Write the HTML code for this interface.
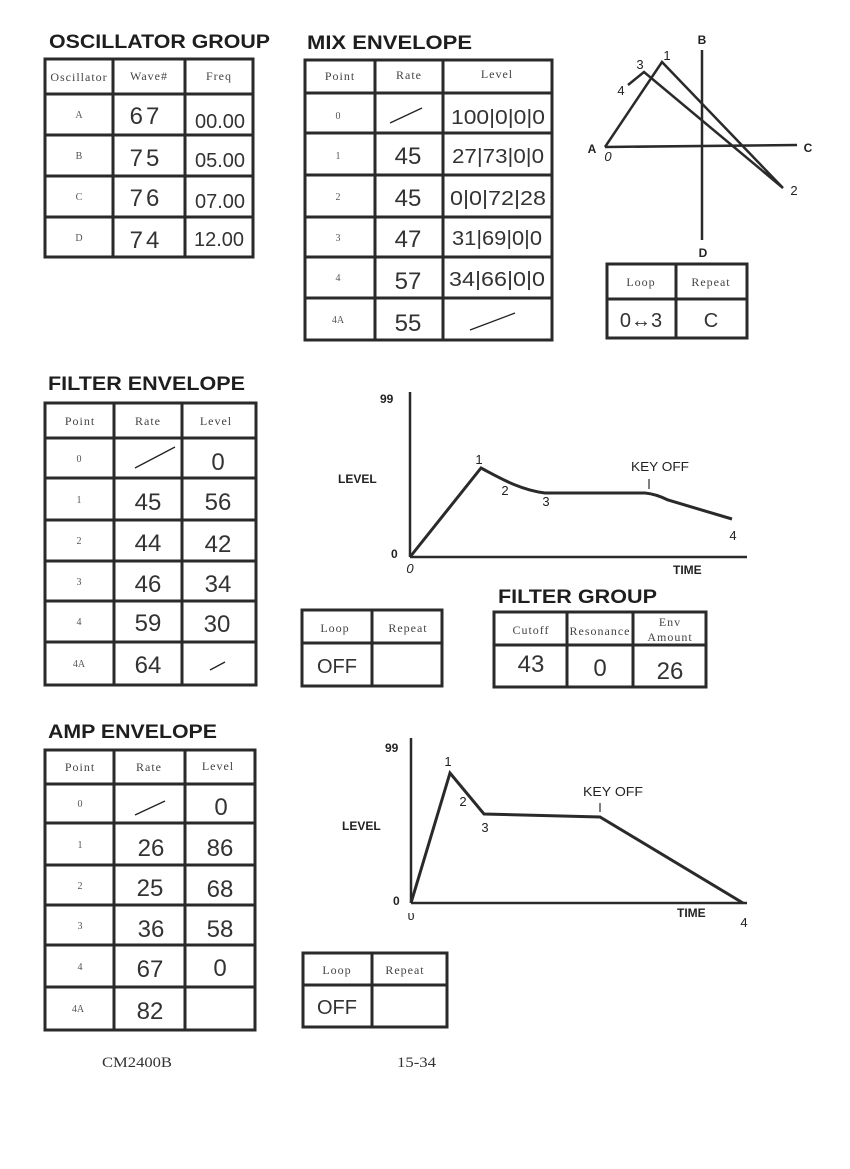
<!DOCTYPE html>
<html><head><meta charset="utf-8"><style>
html,body{margin:0;padding:0;background:#fff;}
svg{display:block;}
.t{font-family:"Liberation Sans",sans-serif;font-weight:bold;font-size:19px;fill:#1e1e1e;}
.h{font-family:"Liberation Serif",serif;font-size:12px;fill:#444;text-anchor:middle;letter-spacing:1px;}
.r{font-family:"Liberation Serif",serif;font-size:10px;fill:#555;text-anchor:middle;}
.hw{font-family:"Liberation Sans",sans-serif;font-size:24px;fill:#333;text-anchor:middle;}
.hs{font-family:"Liberation Sans",sans-serif;font-size:20px;fill:#333;text-anchor:middle;}
.ax{font-family:"Liberation Sans",sans-serif;font-weight:bold;font-size:12px;fill:#222;}
.lab{font-family:"Liberation Sans",sans-serif;font-size:13px;fill:#222;text-anchor:middle;}
.ft{font-family:"Liberation Serif",serif;font-size:15px;fill:#333;}
.g{fill:none;stroke:#2a2a2a;stroke-width:3;}
.th{fill:none;stroke:#222;stroke-width:1.3;}
</style></head><body>
<svg width="850" height="1169" viewBox="0 0 850 1169" xmlns="http://www.w3.org/2000/svg">
<rect width="850" height="1169" fill="#fff"/>

<!-- OSCILLATOR GROUP -->
<text class="t" x="49" y="48" textLength="221" lengthAdjust="spacingAndGlyphs">OSCILLATOR GROUP</text>
<g class="g">
<rect x="45" y="59" width="208" height="198"/>
<line x1="113" y1="59" x2="113" y2="257"/><line x1="185" y1="59" x2="185" y2="257"/>
<line x1="45" y1="94" x2="253" y2="94"/><line x1="45" y1="135" x2="253" y2="135"/>
<line x1="45" y1="176" x2="253" y2="176"/><line x1="45" y1="217" x2="253" y2="217"/>
</g>
<text class="h" x="79" y="81" letter-spacing="0.5">Oscillator</text><text class="h" x="149" y="80">Wave#</text><text class="h" x="219" y="80">Freq</text>
<text class="r" x="79" y="118">A</text><text class="r" x="79" y="159">B</text><text class="r" x="79" y="200">C</text><text class="r" x="79" y="241">D</text>
<text class="hw" x="146" y="124" letter-spacing="3">67</text>
<text class="hw" x="146" y="166" letter-spacing="3">75</text>
<text class="hw" x="146" y="206" letter-spacing="3">76</text>
<text class="hw" x="146" y="248" letter-spacing="3">74</text>
<text class="hs" x="220" y="128">00.00</text>
<text class="hs" x="220" y="167">05.00</text>
<text class="hs" x="220" y="208">07.00</text>
<text class="hs" x="219" y="246">12.00</text>

<!-- MIX ENVELOPE -->
<text class="t" x="307" y="49" textLength="165" lengthAdjust="spacingAndGlyphs">MIX ENVELOPE</text>
<g class="g">
<rect x="305" y="60" width="247" height="280"/>
<line x1="375" y1="60" x2="375" y2="340"/><line x1="443" y1="60" x2="443" y2="340"/>
<line x1="305" y1="93" x2="552" y2="93"/><line x1="305" y1="133" x2="552" y2="133"/>
<line x1="305" y1="175" x2="552" y2="175"/><line x1="305" y1="217" x2="552" y2="217"/>
<line x1="305" y1="257" x2="552" y2="257"/><line x1="305" y1="298" x2="552" y2="298"/>
</g>
<text class="h" x="340" y="80">Point</text><text class="h" x="409" y="79">Rate</text><text class="h" x="497" y="78">Level</text>
<text class="r" x="338" y="119">0</text><text class="r" x="338" y="159">1</text><text class="r" x="338" y="200">2</text>
<text class="r" x="338" y="241">3</text><text class="r" x="338" y="281">4</text><text class="r" x="338" y="323">4A</text>
<line class="th" x1="390" y1="123" x2="422" y2="108"/>
<text class="hw" x="408" y="164">45</text><text class="hw" x="408" y="206">45</text>
<text class="hw" x="408" y="247">47</text><text class="hw" x="408" y="289">57</text><text class="hw" x="408" y="331">55</text>
<text class="hs" x="498" y="124" textLength="94" lengthAdjust="spacingAndGlyphs">100|0|0|0</text>
<text class="hs" x="498" y="163" textLength="92" lengthAdjust="spacingAndGlyphs">27|73|0|0</text>
<text class="hs" x="498" y="205" textLength="96" lengthAdjust="spacingAndGlyphs">0|0|72|28</text>
<text class="hs" x="497" y="245" textLength="90" lengthAdjust="spacingAndGlyphs">31|69|0|0</text>
<text class="hs" x="497" y="286" textLength="96" lengthAdjust="spacingAndGlyphs">34|66|0|0</text>
<line class="th" x1="470" y1="330" x2="515" y2="313"/>

<!-- Vector diagram -->
<g fill="none" stroke="#2a2a2a" stroke-width="2.5">
<line x1="702" y1="50" x2="702" y2="240"/>
<line x1="605" y1="147" x2="797" y2="145"/>
<polyline points="605,147 662,62 783,188 644,72 628,85"/>
</g>
<text class="ax" x="702" y="44" text-anchor="middle" font-size="15">B</text>
<text class="ax" x="703" y="257" text-anchor="middle" font-size="15">D</text>
<text class="ax" x="592" y="153" text-anchor="middle" font-size="15">A</text>
<text class="ax" x="808" y="152" text-anchor="middle" font-size="15">C</text>
<text class="lab" x="608" y="161" font-size="11" font-style="italic">0</text>
<text class="lab" x="667" y="60" font-size="11">1</text>
<text class="lab" x="640" y="69" font-size="13">3</text>
<text class="lab" x="621" y="95" font-size="13">4</text>
<text class="lab" x="794" y="195" font-size="13">2</text>
<g class="g">
<rect x="607" y="264" width="140" height="74"/>
<line x1="676" y1="264" x2="676" y2="338"/><line x1="607" y1="299" x2="747" y2="299"/>
</g>
<text class="h" x="641" y="286">Loop</text><text class="h" x="711" y="286">Repeat</text>
<text class="hs" x="641" y="327">0↔3</text><text class="hs" x="711" y="327">C</text>

<!-- FILTER ENVELOPE -->
<text class="t" x="48" y="390" textLength="197" lengthAdjust="spacingAndGlyphs">FILTER ENVELOPE</text>
<g class="g">
<rect x="45" y="403" width="211" height="282"/>
<line x1="114" y1="403" x2="114" y2="685"/><line x1="182" y1="403" x2="182" y2="685"/>
<line x1="45" y1="438" x2="256" y2="438"/><line x1="45" y1="478" x2="256" y2="478"/>
<line x1="45" y1="520" x2="256" y2="520"/><line x1="45" y1="561" x2="256" y2="561"/>
<line x1="45" y1="601" x2="256" y2="601"/><line x1="45" y1="642" x2="256" y2="642"/>
</g>
<text class="h" x="80" y="425">Point</text><text class="h" x="148" y="425">Rate</text><text class="h" x="216" y="425">Level</text>
<text class="r" x="79" y="462">0</text><text class="r" x="79" y="503">1</text><text class="r" x="79" y="544">2</text>
<text class="r" x="79" y="585">3</text><text class="r" x="79" y="625">4</text><text class="r" x="79" y="667">4A</text>
<line class="th" x1="135" y1="468" x2="175" y2="447"/>
<text class="hw" x="148" y="510">45</text><text class="hw" x="148" y="551">44</text>
<text class="hw" x="148" y="592">46</text><text class="hw" x="148" y="631">59</text><text class="hw" x="148" y="673">64</text>
<text class="hw" x="218" y="470">0</text><text class="hw" x="218" y="510">56</text><text class="hw" x="218" y="552">42</text>
<text class="hw" x="218" y="592">34</text><text class="hw" x="217" y="632">30</text>
<line class="th" x1="210" y1="670" x2="225" y2="662"/>

<!-- Filter graph -->
<g fill="none" stroke="#2a2a2a">
<line x1="410" y1="392" x2="410" y2="557" stroke-width="2.5"/>
<line x1="410" y1="557" x2="747" y2="557" stroke-width="2.5"/>
<path d="M410,557 L481,468 C500,478 520,490 545,493 L645,493 Q656,494 668,500 L732,519" stroke-width="3"/>
<line x1="649" y1="479" x2="649" y2="489" stroke-width="1.2"/>
</g>
<text class="ax" x="380" y="403" font-size="14">99</text>
<text class="ax" x="338" y="483" font-size="11">LEVEL</text>
<text class="ax" x="391" y="558" font-size="14">0</text>
<text class="ax" x="673" y="574" font-size="11">TIME</text>
<text class="lab" x="410" y="573" font-size="11" font-style="italic">0</text>
<text class="lab" x="479" y="464" font-size="11">1</text>
<text class="lab" x="505" y="495" font-size="13">2</text>
<text class="lab" x="546" y="506" font-size="13">3</text>
<text class="lab" x="660" y="471" font-size="12" textLength="58" lengthAdjust="spacingAndGlyphs">KEY OFF</text>
<text class="lab" x="733" y="540" font-size="15">4</text>

<g class="g">
<rect x="302" y="610" width="140" height="76"/>
<line x1="372" y1="610" x2="372" y2="686"/><line x1="302" y1="643" x2="442" y2="643"/>
</g>
<text class="h" x="335" y="632">Loop</text><text class="h" x="408" y="632">Repeat</text>
<text class="hs" x="337" y="673">OFF</text>

<!-- FILTER GROUP -->
<text class="t" x="498" y="603" textLength="159" lengthAdjust="spacingAndGlyphs">FILTER GROUP</text>
<g class="g">
<rect x="494" y="612" width="212" height="75"/>
<line x1="567" y1="612" x2="567" y2="687"/><line x1="633" y1="612" x2="633" y2="687"/>
<line x1="494" y1="645" x2="706" y2="645"/>
</g>
<text class="h" x="531" y="634">Cutoff</text><text class="h" x="600" y="635" letter-spacing="0">Resonance</text>
<text class="h" x="670" y="626">Env</text><text class="h" x="670" y="641">Amount</text>
<text class="hw" x="531" y="672">43</text><text class="hw" x="600" y="676">0</text><text class="hw" x="670" y="679">26</text>

<!-- AMP ENVELOPE -->
<text class="t" x="48" y="738" textLength="169" lengthAdjust="spacingAndGlyphs">AMP ENVELOPE</text>
<g class="g">
<rect x="45" y="750" width="210" height="280"/>
<line x1="114" y1="750" x2="114" y2="1030"/><line x1="185" y1="750" x2="185" y2="1030"/>
<line x1="45" y1="784" x2="255" y2="784"/><line x1="45" y1="823" x2="255" y2="823"/>
<line x1="45" y1="865" x2="255" y2="865"/><line x1="45" y1="905" x2="255" y2="905"/>
<line x1="45" y1="945" x2="255" y2="945"/><line x1="45" y1="987" x2="255" y2="987"/>
</g>
<text class="h" x="80" y="771">Point</text><text class="h" x="149" y="771">Rate</text><text class="h" x="218" y="770">Level</text>
<text class="r" x="80" y="807">0</text><text class="r" x="80" y="848">1</text><text class="r" x="80" y="889">2</text>
<text class="r" x="80" y="929">3</text><text class="r" x="80" y="970">4</text><text class="r" x="78" y="1012">4A</text>
<line class="th" x1="135" y1="815" x2="165" y2="801"/>
<text class="hw" x="151" y="856">26</text><text class="hw" x="150" y="896">25</text>
<text class="hw" x="151" y="937">36</text><text class="hw" x="150" y="977">67</text><text class="hw" x="150" y="1019">82</text>
<text class="hw" x="221" y="815">0</text><text class="hw" x="220" y="856">86</text><text class="hw" x="220" y="897">68</text>
<text class="hw" x="220" y="937">58</text><text class="hw" x="220" y="976">0</text>

<!-- Amp graph -->
<g fill="none" stroke="#2a2a2a">
<line x1="411" y1="738" x2="411" y2="903" stroke-width="2.5"/>
<line x1="411" y1="903" x2="747" y2="903" stroke-width="2.5"/>
<path d="M411,903 L450,773 L484,814 L600,817 L743,903" stroke-width="3"/>
<line x1="600" y1="803" x2="600" y2="812" stroke-width="1.2"/>
</g>
<text class="ax" x="385" y="752" font-size="14">99</text>
<text class="ax" x="342" y="830" font-size="11">LEVEL</text>
<text class="ax" x="393" y="905" font-size="14">0</text>
<text class="ax" x="677" y="917" font-size="11">TIME</text>
<text class="lab" x="411" y="920" font-size="11">υ</text>
<text class="lab" x="448" y="766" font-size="11">1</text>
<text class="lab" x="463" y="806" font-size="13">2</text>
<text class="lab" x="485" y="832" font-size="14">3</text>
<text class="lab" x="613" y="796" font-size="12" textLength="60" lengthAdjust="spacingAndGlyphs">KEY OFF</text>
<text class="lab" x="744" y="927" font-size="15">4</text>

<g class="g">
<rect x="303" y="953" width="144" height="74"/>
<line x1="372" y1="953" x2="372" y2="1027"/><line x1="303" y1="985" x2="447" y2="985"/>
</g>
<text class="h" x="337" y="974">Loop</text><text class="h" x="405" y="974">Repeat</text>
<text class="hs" x="337" y="1014">OFF</text>

<!-- Footer -->
<text class="ft" x="102" y="1067" textLength="70" lengthAdjust="spacingAndGlyphs">CM2400B</text>
<text class="ft" x="397" y="1067" textLength="39" lengthAdjust="spacingAndGlyphs">15-34</text>
</svg>
</body></html>
